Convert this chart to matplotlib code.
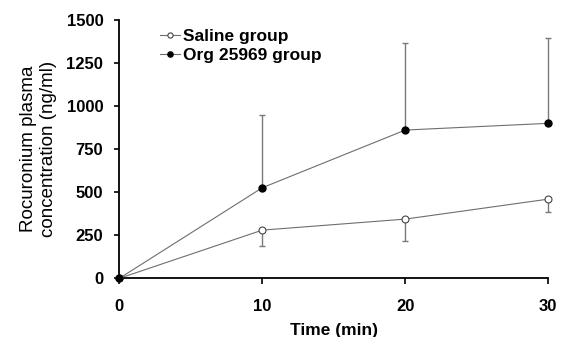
import numpy as np
import matplotlib
matplotlib.use('Agg')
import matplotlib.pyplot as plt

plt.rcParams['font.family'] = ['Liberation Sans', 'DejaVu Sans']

time_min = [0, 10, 20, 30]
saline_mean = [0, 280, 344, 460]
saline_err_low = [0, 94, 127, 75]
org_mean = [0, 526, 861, 900]
org_err_high = [0, 420, 507, 494]
yticks = [0, 250, 500, 750, 1000, 1250, 1500]
xticks = [0, 10, 20, 30]

fig = plt.figure(figsize=(5.64, 3.37), dpi=100)
ax = fig.add_axes([0.2115, 0.174, 0.7605, 0.7667])

line_col = '#6e6e6e'
err_col = '#7a7a7a'
eb1 = ax.errorbar(time_min, org_mean, yerr=[np.zeros(4), org_err_high], fmt='none',
                  ecolor=err_col, elinewidth=1.0, capsize=2, capthick=1.0)
eb2 = ax.errorbar(time_min, saline_mean, yerr=[saline_err_low, np.zeros(4)], fmt='none',
                  ecolor=err_col, elinewidth=1.0, capsize=2, capthick=1.0)
for eb in (eb1, eb2):
    for art in eb.get_children():
        art.set_clip_on(False)
ax.plot(time_min, saline_mean, '-o', color=line_col, lw=0.8, ms=5,
        mfc='white', mec='#444444', mew=0.8, label='Saline group', zorder=3,
        clip_on=False)
ax.plot(time_min, org_mean, '-o', color=line_col, lw=0.8, ms=5,
        mfc='black', mec='black', label='Org 25969 group', zorder=3,
        clip_on=False)

ax.set_xlim(0, 30)
ax.set_ylim(0, 1500)
ax.set_xticks(xticks)
ax.set_yticks(yticks)
ax.spines['top'].set_visible(False)
ax.spines['right'].set_visible(False)
ax.spines['left'].set_linewidth(1.3)
ax.spines['bottom'].set_linewidth(1.3)
ax.tick_params(axis='x', direction='out', length=4.5, width=1.2, labelsize=12, pad=10)
ax.tick_params(axis='y', direction='out', length=3.5, width=1.2, labelsize=12, pad=8)
for t in ax.get_xticklabels() + ax.get_yticklabels():
    t.set_fontweight('bold')
ax.set_xlabel('Time (min)', fontsize=12.5, fontweight='bold', labelpad=7)
ax.set_ylabel('Rocuronium plasma\nconcentration (ng/ml)', fontsize=13.5,
              labelpad=7, linespacing=1.2)

ax.legend(loc='upper left', bbox_to_anchor=(0.095, 0.965), frameon=False,
          borderpad=0, borderaxespad=0, handlelength=1.15, handletextpad=0.2,
          labelspacing=0.2, markerscale=0.75,
          prop={'weight': 'bold', 'size': 12.5})

fig.savefig('out.png', dpi=100)
